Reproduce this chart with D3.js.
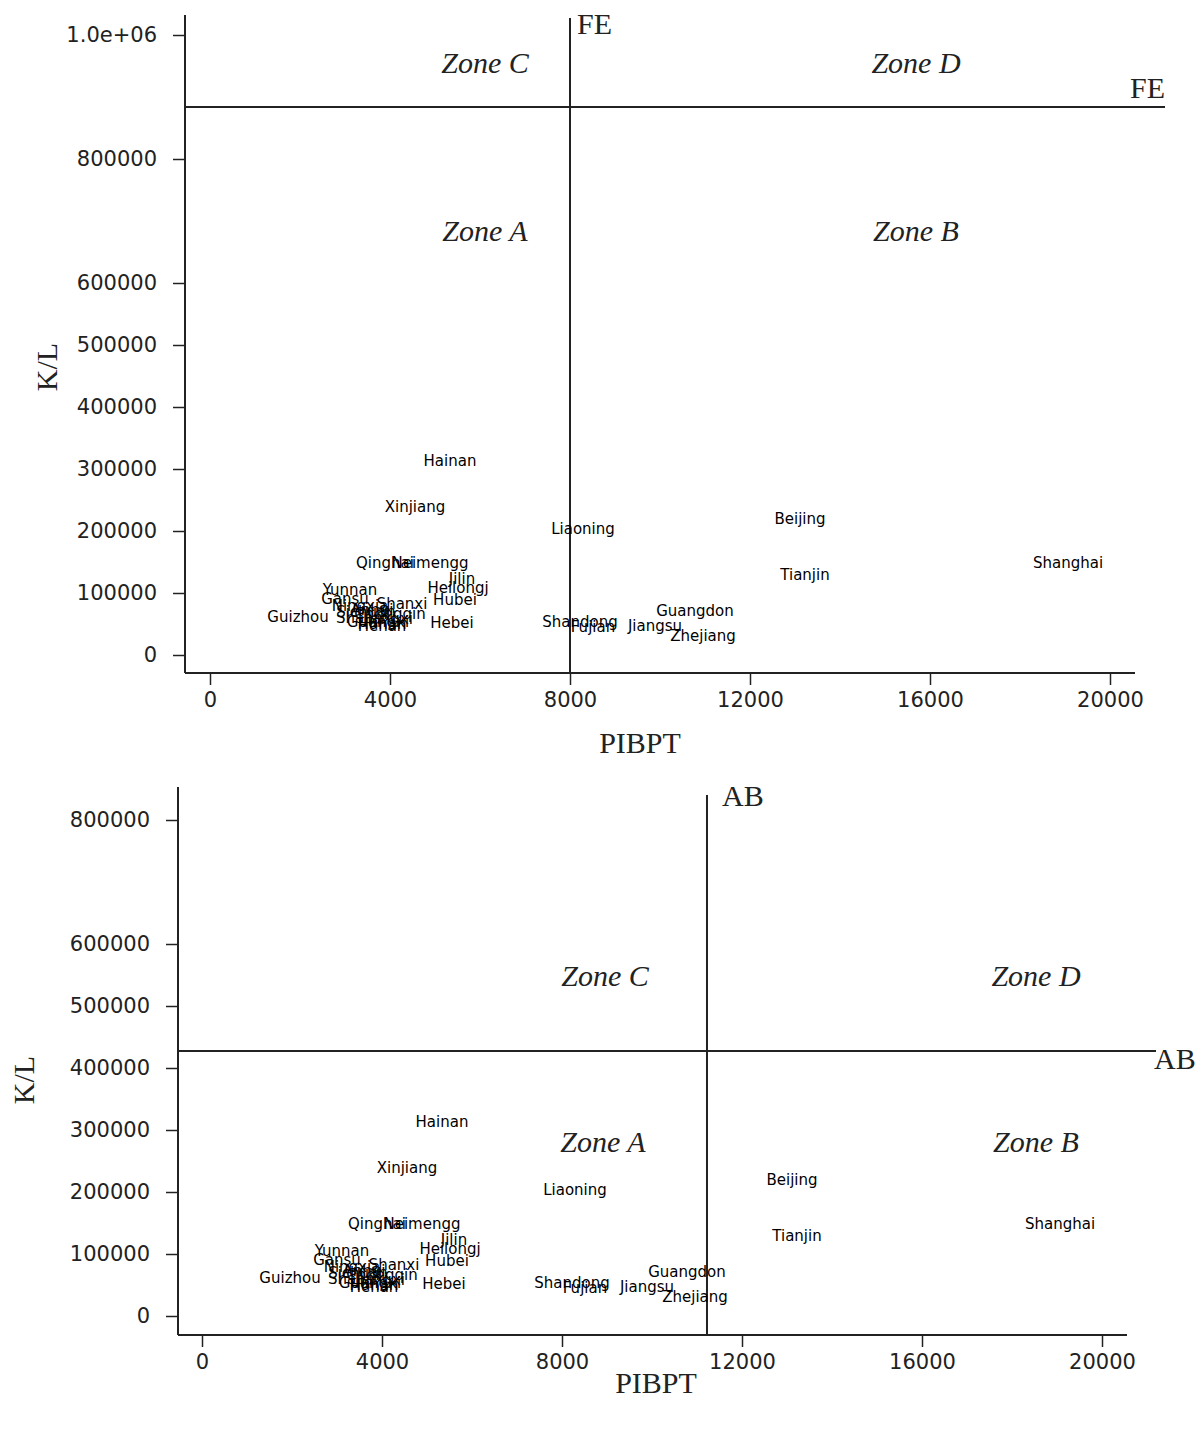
<!DOCTYPE html>
<html>
<head>
<meta charset="utf-8">
<script src="https://cdn.jsdelivr.net/npm/d3@7"></script>
<style>
  html, body { margin: 0; padding: 0; background: #fff; }
  svg { display: block; }
</style>
</head>
<body>
<svg id="chart" width="1202" height="1430"></svg>
<script>
// ---- data ----
const provinces = ["Hainan","Xinjiang","Liaoning","Beijing","Tianjin","Shanghai","Qinghai","Neimengg","Jilin","Heilongj","Hubei","Yunnan","Gansu","Shanxi","Ningxia","Anhui","Sichuan","Chongqin","Guizhou","Shaanxi","Jiangxi","Guangxi","Hunan","Henan","Hebei","Shandong","Fujian","Jiangsu","Guangdon","Zhejiang"];
const pibpt = [5333,4556,8289,13111,13222,19067,3889,4889,5600,5511,5444,3111,3000,4267,3333,3600,3467,4000,1956,3467,3956,3733,3822,3822,5378,8222,8511,9889,10778,10956];
const kl = [312900,238700,203200,219400,129000,148400,148400,148400,122600,108100,88700,104800,90300,82300,79000,72600,69400,66100,61300,59700,58100,53200,50000,46800,51600,53200,45200,46800,71000,30600];

const xTicks = [0,4000,8000,12000,16000,20000];
const yTicksTop = [0,100000,200000,300000,400000,500000,600000,800000,1000000];
const yTickLabelsTop = ["0","100000","200000","300000","400000","500000","600000","800000","1.0e+06"];
const yTicksBottom = [0,100000,200000,300000,400000,500000,600000,800000];
const yTickLabelsBottom = ["0","100000","200000","300000","400000","500000","600000","800000"];

const zones = ["Zone A","Zone B","Zone C","Zone D"];
const refLineTop = { name: "FE", x: 8000, y: 884000 };
const refLineBottom = { name: "AB", x: 11222, y: 427400 };
const xTitle = "PIBPT";
const yTitle = "K/L";

const svg = d3.select("#chart");
const ink = "#222";

function panel(cfg) {
  const g = svg.append("g");
  const x = d3.scaleLinear().domain([0, 20000]).range(cfg.xRange);
  const y = d3.scaleLinear().domain([0, cfg.yMaxVal]).range(cfg.yRange);

  // x axis
  const xAxis = d3.axisBottom(x).tickValues(xTicks).tickFormat(d3.format("d")).tickSize(12).tickSizeOuter(0);
  const xg = g.append("g").attr("transform", `translate(0,${cfg.axisY})`).call(xAxis);
  xg.select(".domain").remove();
  g.append("line").attr("x1", cfg.axisX).attr("x2", cfg.xAxisEnd).attr("y1", cfg.axisY).attr("y2", cfg.axisY)
    .attr("stroke", ink).attr("stroke-width", 2);
  xg.selectAll(".tick line").attr("stroke", ink).attr("stroke-width", 1.5);
  xg.selectAll(".tick text").attr("font-family", "DejaVu Sans").attr("font-size", 21).attr("fill", ink).attr("dy", "1.0em").attr("y", 13);

  // y axis
  const yAxis = d3.axisLeft(y).tickValues(cfg.yTicks).tickFormat((d, i) => cfg.yLabels[i]).tickSize(12).tickSizeOuter(0);
  const yg = g.append("g").attr("transform", `translate(${cfg.axisX},0)`).call(yAxis);
  yg.select(".domain").remove();
  g.append("line").attr("x1", cfg.axisX).attr("x2", cfg.axisX).attr("y1", cfg.yAxisTop).attr("y2", cfg.axisY)
    .attr("stroke", ink).attr("stroke-width", 2);
  yg.selectAll(".tick line").attr("stroke", ink).attr("stroke-width", 1.5);
  yg.selectAll(".tick text").attr("font-family", "DejaVu Sans").attr("font-size", 21).attr("fill", ink).attr("x", -28);

  // reference lines
  const r = cfg.ref;
  g.append("line").attr("x1", x(r.x)).attr("x2", x(r.x)).attr("y1", cfg.vTop).attr("y2", cfg.axisY)
    .attr("stroke", ink).attr("stroke-width", 2);
  g.append("line").attr("x1", cfg.axisX).attr("x2", cfg.hEnd).attr("y1", y(r.y)).attr("y2", y(r.y))
    .attr("stroke", ink).attr("stroke-width", 2);
  g.append("text").attr("x", x(r.x) + cfg.vLabelDx).attr("y", cfg.vLabelY).text(r.name)
    .attr("font-family", "Liberation Serif").attr("font-size", 30).attr("fill", ink);
  g.append("text").attr("x", cfg.hLabelX).attr("y", y(r.y) + cfg.hLabelDy).text(r.name)
    .attr("font-family", "Liberation Serif").attr("font-size", 30).attr("fill", ink);

  // zones
  cfg.zonePos.forEach((p, i) => {
    g.append("text").attr("x", p[0]).attr("y", p[1]).attr("text-anchor", "middle").text(zones[i])
      .attr("font-family", "Liberation Serif").attr("font-style", "italic").attr("font-size", 30).attr("fill", ink);
  });

  // point labels
  g.append("g").selectAll("text").data(provinces).join("text")
    .attr("x", (d, i) => x(pibpt[i])).attr("y", (d, i) => y(kl[i]))
    .attr("dy", "0.36em").attr("text-anchor", "middle")
    .attr("font-family", "DejaVu Sans").attr("font-size", 15).attr("fill", "#000")
    .text(d => d);

  // titles
  g.append("text").attr("x", cfg.xTitlePos[0]).attr("y", cfg.xTitlePos[1]).attr("text-anchor", "middle").text(xTitle)
    .attr("font-family", "Liberation Serif").attr("font-size", 30).attr("fill", ink);
  g.append("text").attr("transform", `translate(${cfg.yTitlePos[0]},${cfg.yTitlePos[1]}) rotate(-90)`)
    .attr("text-anchor", "middle").text(yTitle)
    .attr("font-family", "Liberation Serif").attr("font-size", 30).attr("fill", ink);
}

panel({
  xRange: [210, 1110], yMaxVal: 1000000, yRange: [655, 35],
  axisX: 185, axisY: 673, xAxisEnd: 1135, yAxisTop: 15,
  yTicks: yTicksTop, yLabels: yTickLabelsTop,
  ref: refLineTop, vTop: 18, hEnd: 1165,
  vLabelDx: 7, vLabelY: 34, hLabelX: 1130, hLabelDy: -9,
  zonePos: [[485, 241], [916, 241], [485, 73], [916, 73]],
  xTitlePos: [640, 753], yTitlePos: [57, 367]
});

panel({
  xRange: [202, 1102], yMaxVal: 800000, yRange: [1316, 820],
  axisX: 178, axisY: 1335, xAxisEnd: 1127, yAxisTop: 787,
  yTicks: yTicksBottom, yLabels: yTickLabelsBottom,
  ref: refLineBottom, vTop: 795, hEnd: 1156,
  vLabelDx: 15, vLabelY: 806, hLabelX: 1154, hLabelDy: 18,
  zonePos: [[603, 1152], [1036, 1152], [605, 986], [1036, 986]],
  xTitlePos: [656, 1393], yTitlePos: [34, 1080]
});
</script>
</body>
</html>
